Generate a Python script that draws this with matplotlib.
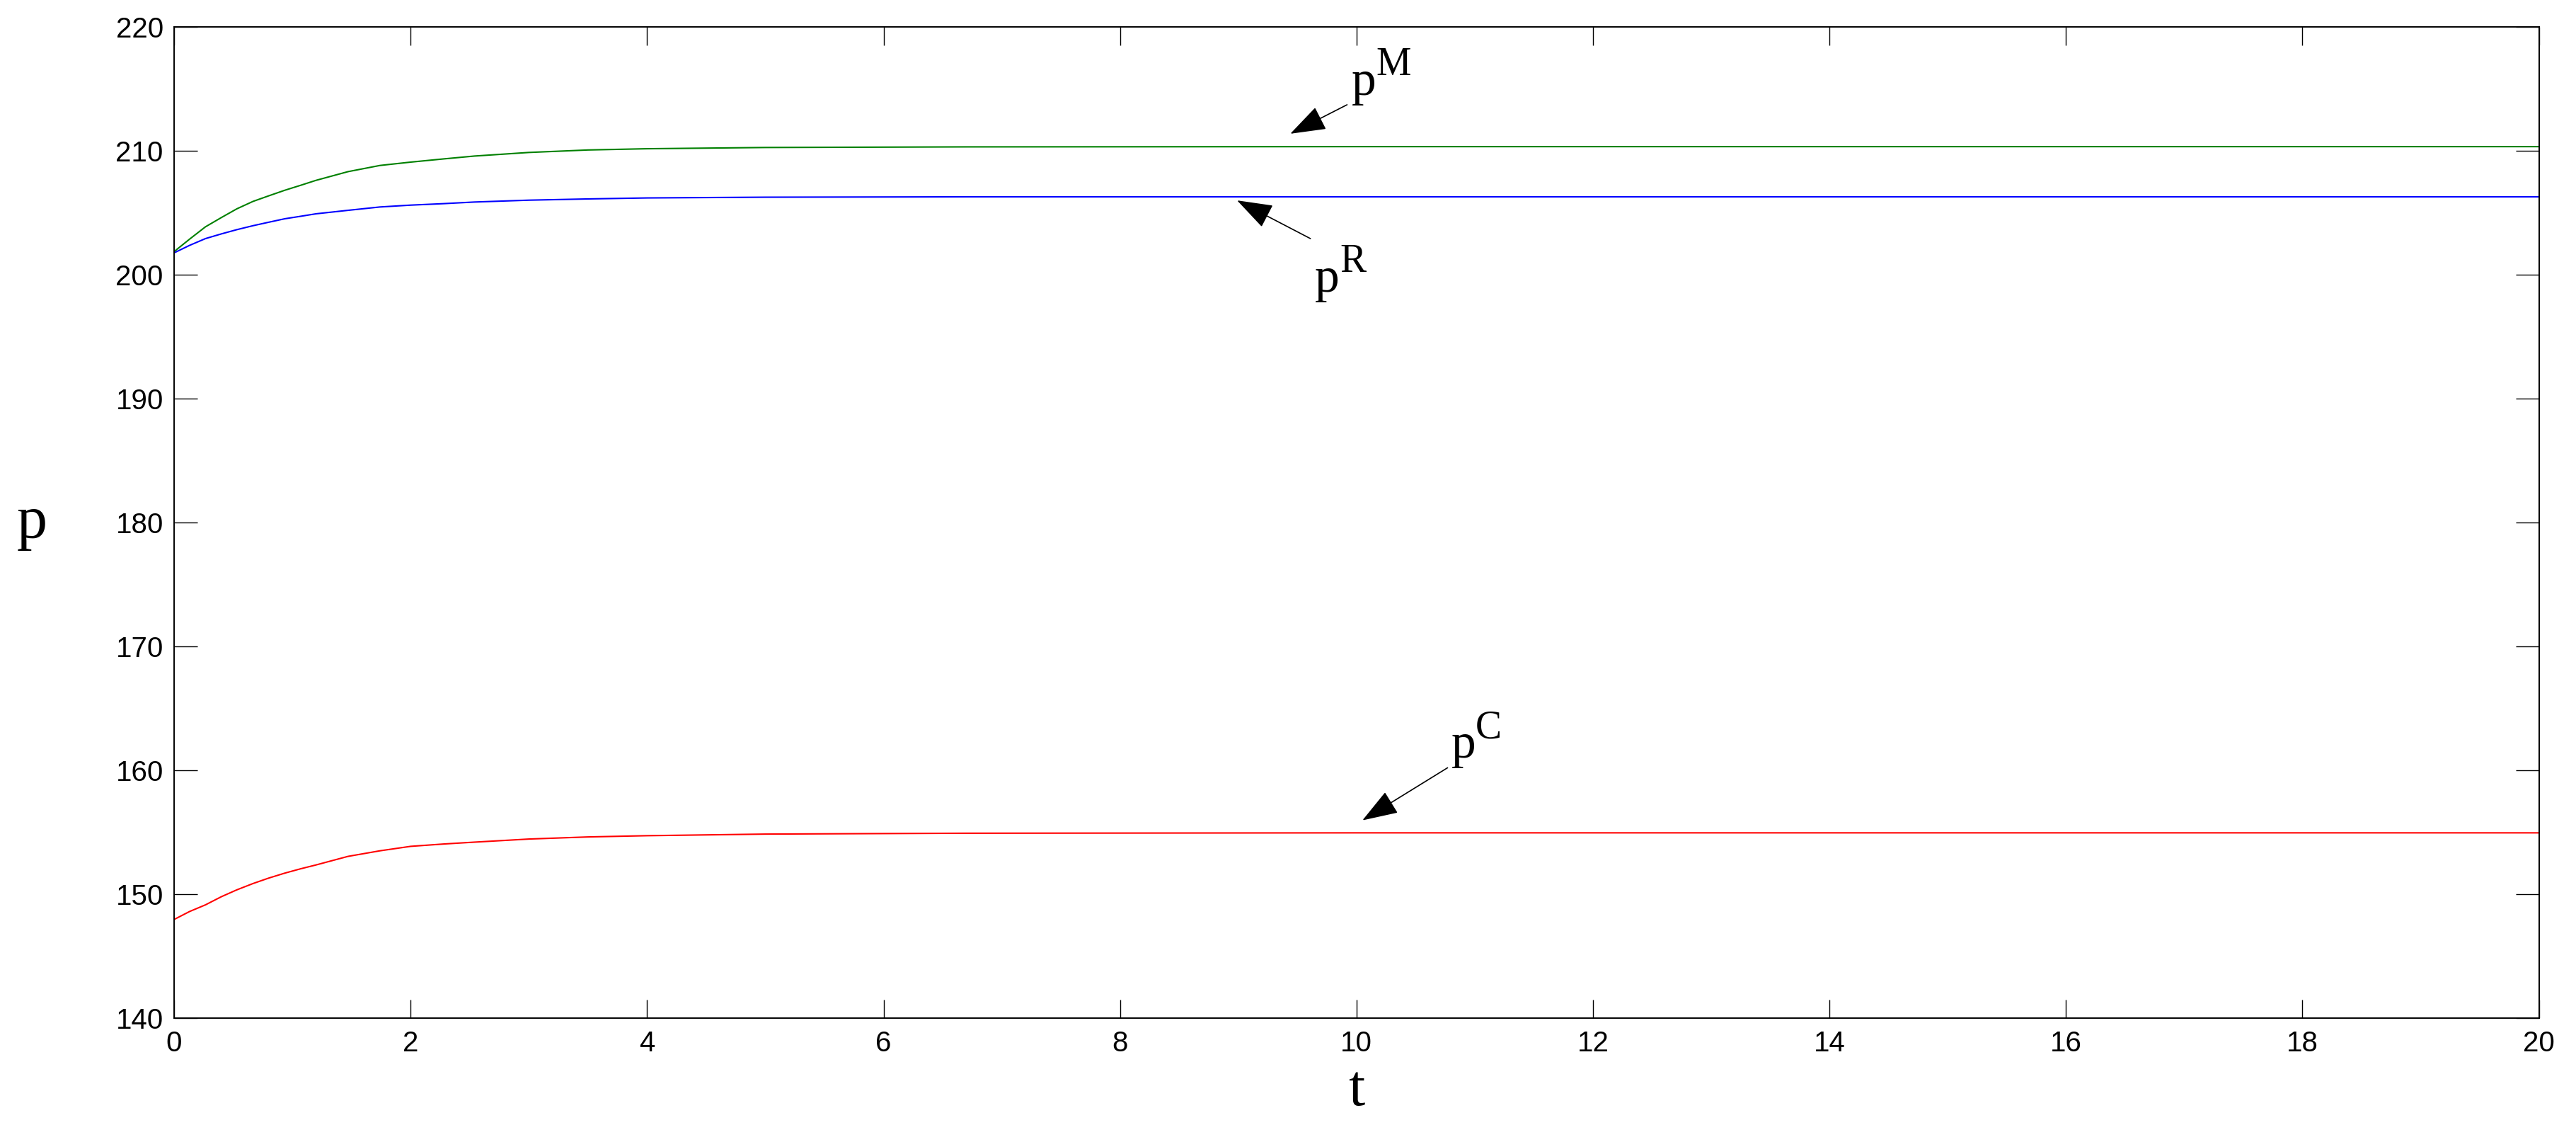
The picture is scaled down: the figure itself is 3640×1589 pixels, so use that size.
import matplotlib
matplotlib.use("Agg")
import matplotlib.pyplot as plt

# time points
t = [0, 0.13, 0.265, 0.4, 0.53, 0.667, 0.8, 0.936, 1.07, 1.2, 1.47, 1.74,
     2.0, 2.28, 2.54, 3.0, 3.5, 4.0, 5.0, 6.7, 10, 15, 20]

# manufacturer price (green)
p_M = [201.85, 202.85, 203.85, 204.6, 205.3, 205.9, 206.35, 206.8, 207.2, 207.6,
       208.3, 208.8, 209.07, 209.33, 209.56, 209.85, 210.05, 210.15, 210.25,
       210.3, 210.32, 210.32, 210.32]

# retailer price (blue)
p_R = [201.75, 202.35, 202.9, 203.28, 203.62, 203.94, 204.22, 204.5, 204.7, 204.9,
       205.18, 205.45, 205.6, 205.72, 205.85, 206.0, 206.1, 206.18, 206.24,
       206.27, 206.27, 206.27, 206.27]

# price C (red)
p_C = [147.96, 148.6, 149.14, 149.8, 150.35, 150.86, 151.3, 151.7, 152.05, 152.36,
       153.05, 153.5, 153.86, 154.05, 154.2, 154.45, 154.62, 154.72, 154.85,
       154.92, 154.95, 154.95, 154.95]

x_ticks = [0, 2, 4, 6, 8, 10, 12, 14, 16, 18, 20]
y_ticks = [140, 150, 160, 170, 180, 190, 200, 210, 220]

# superscripts, arrow tip, arrow tail, text anchor
sups = ["M", "R", "C"]
tips = [(9.44, 211.36), (8.99, 205.98), (10.05, 155.96)]
tails = [(9.92, 213.7), (9.61, 202.9), (10.77, 160.2)]
text_pos = [(9.96, 214.5), (9.65, 198.6), (10.8, 161.0)]

serif = "Liberation Serif"

fig = plt.figure(figsize=(36.4, 15.89), dpi=100)
ax = fig.add_axes([0.0676, 0.095, 0.918, 0.8813])

ax.plot(t, p_M, color="#008000", lw=1.5)
ax.plot(t, p_R, color="#0000ff", lw=1.5)
ax.plot(t, p_C, color="#ff0000", lw=1.5)

ax.set_xlim(0, 20)
ax.set_ylim(140, 220)
ax.set_xticks(x_ticks)
ax.set_yticks(y_ticks)

for lab in ax.get_xticklabels() + ax.get_yticklabels():
    lab.set_fontfamily("Liberation Sans")
    lab.set_fontsize(29)

ax.tick_params(axis="both", direction="in", top=True, right=True, width=1.0)
ax.tick_params(axis="x", length=19, pad=12)
ax.tick_params(axis="y", length=24, pad=11)
for s in ax.spines.values():
    s.set_linewidth(1.4)

ax.set_xlabel("t", fontfamily=serif, fontsize=60, labelpad=8)
ax.set_ylabel("p", fontfamily=serif, fontsize=62, rotation=0,
              labelpad=85, va="center")

for sup, tip, tail, pos in zip(sups, tips, tails, text_pos):
    ax.annotate("", xy=tip, xytext=tail,
                arrowprops=dict(arrowstyle="-|>,head_length=1.0,head_width=0.35",
                                mutation_scale=32, color="black", lw=1.2,
                                shrinkA=0, shrinkB=0))
    ax.text(pos[0], pos[1], "p", fontfamily=serif, fontsize=50,
            ha="left", va="baseline")
    ax.annotate(sup, xy=pos, xytext=(25, 20), textcoords="offset points",
                fontfamily=serif, fontsize=40, ha="left", va="baseline")

fig.savefig("out.png", dpi=100)
